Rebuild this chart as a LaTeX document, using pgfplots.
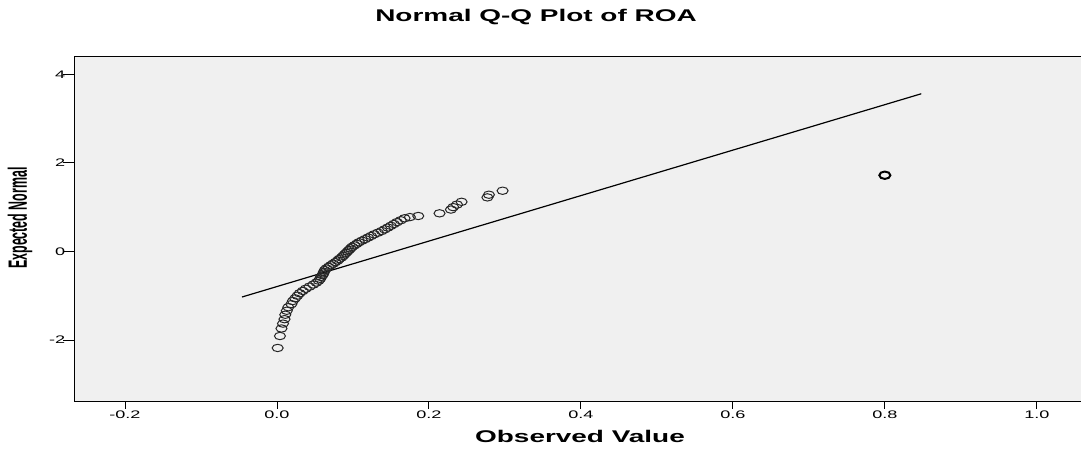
\documentclass[border=0pt]{standalone}
\usepackage{pgfplots}
\pgfplotsset{compat=1.18}
\usepackage{pgfplotstable}
\usepackage{fontspec}
\setmainfont{Liberation Sans}
\usepackage{graphicx}
\definecolor{bg}{HTML}{F0F0F0}
\pgfplotstableread{
x z
0.001 -2.18
0.004 -1.91
0.006 -1.74
0.008 -1.63
0.010 -1.53
0.011 -1.43
0.013 -1.34
0.015 -1.26
0.019 -1.19
0.021 -1.12
0.024 -1.06
0.027 -1.00
0.030 -0.945
0.034 -0.893
0.038 -0.843
0.043 -0.795
0.048 -0.748
0.052 -0.704
0.055 -0.661
0.057 -0.619
0.058 -0.578
0.060 -0.538
0.061 -0.499
0.062 -0.461
0.063 -0.423
0.065 -0.386
0.068 -0.349
0.071 -0.313
0.074 -0.277
0.077 -0.242
0.080 -0.207
0.082 -0.172
0.085 -0.137
0.087 -0.103
0.089 -0.068
0.091 -0.034
0.093 0.000
0.095 0.034
0.097 0.068
0.099 0.103
0.102 0.137
0.105 0.172
0.108 0.207
0.112 0.242
0.116 0.277
0.120 0.313
0.124 0.349
0.128 0.386
0.133 0.423
0.138 0.461
0.142 0.499
0.146 0.538
0.150 0.578
0.154 0.619
0.158 0.661
0.163 0.704
0.168 0.748
0.175 0.775
0.186 0.800
0.214 0.860
0.229 0.945
0.232 1.000
0.237 1.058
0.243 1.120
0.277 1.220
0.279 1.280
0.297 1.370
}\qqdata
\begin{document}
\begin{tikzpicture}[x=1bp,y=1bp]
\begin{axis}[
  at={(74bp,49bp)}, anchor=south west,
  scale only axis, width=1016bp, height=345bp,
  xmin=-0.267, xmax=1.07, ymin=-3.40, ymax=4.39,
  axis background/.style={fill=bg},
  axis line style={black, line width=1pt},
  xtick={-0.2,0,0.2,0.4,0.6,0.8,1.0}, ytick={-2,0,2,4},
  tick align=outside, tick pos=left,
  xtick style={black, line width=0.8pt, /pgfplots/major tick length=7bp},
  ytick style={black, line width=0.8pt, /pgfplots/major tick length=11bp},
  xticklabel={\scalebox{1.65}[1]{\fontsize{11}{12}\selectfont\pgfmathprintnumber[assume math mode=true,fixed,fixed zerofill,precision=1]{\tick}}},
  yticklabel={\scalebox{1.65}[1]{\fontsize{11}{12}\selectfont\pgfmathprintnumber[assume math mode=true]{\tick}}},
  xticklabel style={yshift=-1bp},
  yticklabel style={xshift=-1bp},
  clip=false,
]
\addplot[only marks, mark=o, mark size=3.7, mark options={xscale=1.5, line width=1pt, draw=black!85}] table[x=x,y=z] {\qqdata};
\addplot[only marks, mark=o, mark size=3.7, mark options={xscale=1.5, line width=2pt, draw=black}] coordinates {(0.800,1.72)};
\addplot[black, line width=1.2pt] coordinates {(-0.046,-1.03) (0.848,3.56)};
\end{axis}
\node[anchor=base] at (536,429) {\scalebox{1.65}[1]{\fontsize{17}{20}\selectfont\bfseries Normal Q-Q Plot of ROA}};
\node[anchor=base] at (580,8) {\scalebox{1.65}[1]{\fontsize{17}{20}\selectfont\bfseries Observed Value}};
\node[rotate=90] at (20,233) {\scalebox{0.8}[1.7]{\fontsize{15.6}{18}\selectfont\bfseries Expected Normal}};
\pgfresetboundingbox
\useasboundingbox (0,0) rectangle (1081,451);
\end{tikzpicture}
\end{document}
